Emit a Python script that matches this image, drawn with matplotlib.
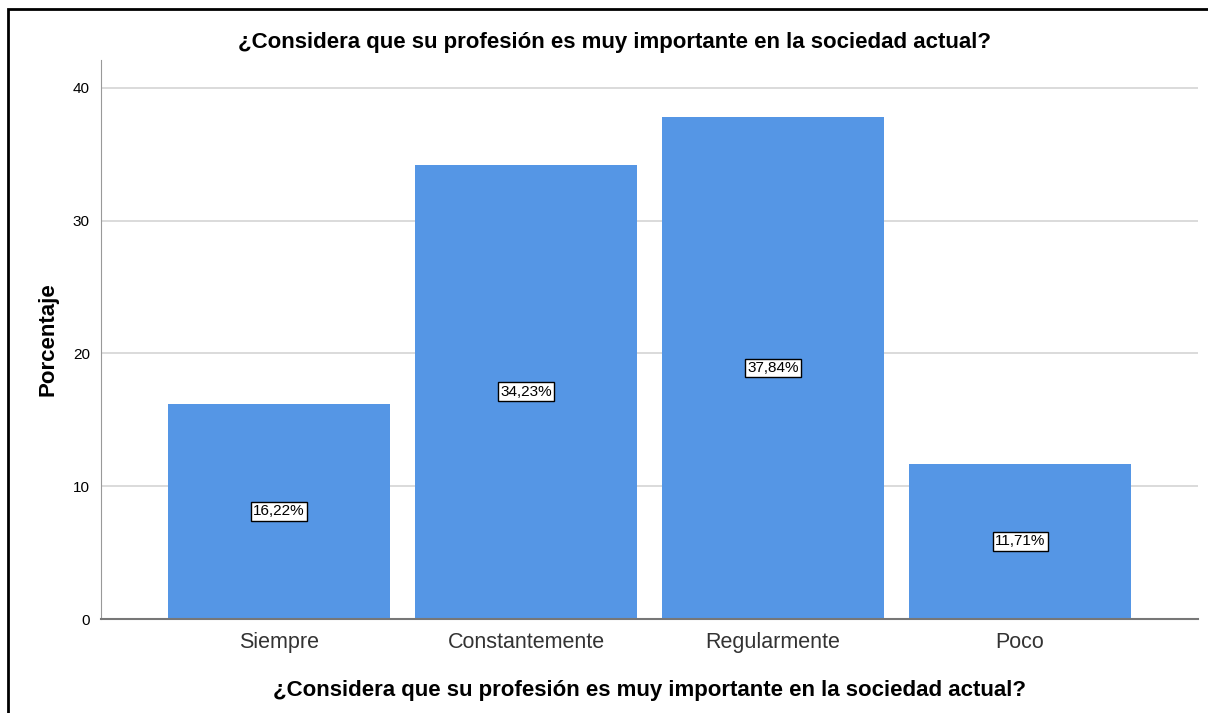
import matplotlib.pyplot as plt
from matplotlib.patches import Rectangle

plt.rcParams['font.family'] = ['Liberation Sans', 'DejaVu Sans']

# data
categorias = ["Siempre", "Constantemente", "Regularmente", "Poco"]
porcentajes = [16.22, 34.23, 37.84, 11.71]
titulo = "¿Considera que su profesión es muy importante en la sociedad actual?"

fig = plt.figure(figsize=(12.08, 7.13), dpi=100)
ax = fig.add_axes([0.0836, 0.1318, 0.9081, 0.784])

x = range(len(categorias))
ax.bar(x, porcentajes, width=0.9, color="#5596e5", zorder=2)

for i, v in enumerate(porcentajes):
    ax.text(i, v/2, ("%.2f%%" % v).replace(".", ","), ha="center", va="center",
            fontsize=11, color="black", zorder=3,
            bbox=dict(boxstyle="square,pad=0.15", fc="white", ec="black", lw=1))

ax.set_xlim(-0.72, 3.72)
ax.set_ylim(0, 42.1)
ax.set_yticks([0, 10, 20, 30, 40])
ax.set_xticks(list(x))
ax.set_xticklabels(categorias, fontsize=15.5, color="#333333")
ax.tick_params(axis="y", labelsize=11, length=0, pad=8)
ax.tick_params(axis="x", length=0, pad=9)
ax.yaxis.grid(True, color="#d4d4d4", lw=1.2, zorder=0)
ax.set_axisbelow(True)

for s in ["top", "right"]:
    ax.spines[s].set_visible(False)
ax.spines["left"].set_color("#999999")
ax.spines["bottom"].set_color("#777777")
ax.spines["bottom"].set_linewidth(1.5)

ax.set_ylabel("Porcentaje", fontsize=16, fontweight="bold", labelpad=10)
ax.set_xlabel(titulo, fontsize=16, fontweight="bold", labelpad=20)
fig.text(0.509, 0.941, titulo, ha="center", va="center", fontsize=16, fontweight="bold")

# outer frame
fig.patches.append(Rectangle((8/1208, -0.01), 1.02, 1 - 9/713 + 0.01, transform=fig.transFigure,
                             fill=False, ec="black", lw=2))

fig.savefig("out.png", dpi=100)
